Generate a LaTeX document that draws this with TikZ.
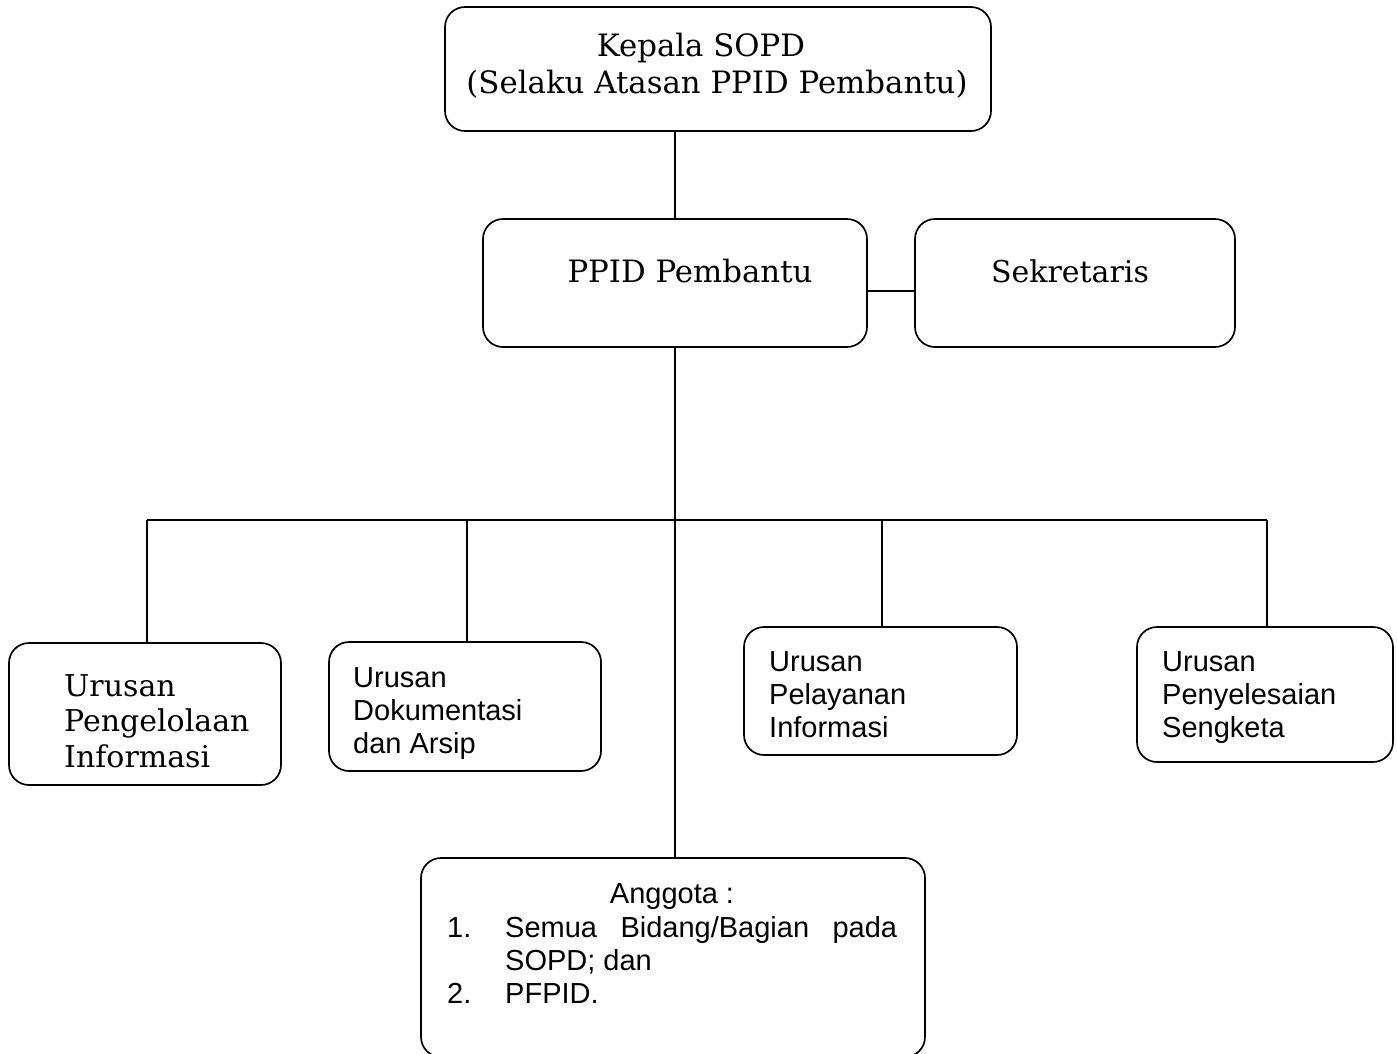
\documentclass[tikz,border=0pt]{standalone}
\usepackage{fontspec}
\setmainfont{DejaVu Serif}
\newfontfamily\arialfont{Liberation Sans}
\begin{document}
\begin{tikzpicture}[x=1pt,y=-1pt,
  box/.style={draw, line width=1.7pt, rounded corners=20pt},
  link/.style={line width=1.7pt},
  serif/.style={inner sep=0pt, font=\fontsize{30.8}{36}\selectfont},
  serifs/.style={inner sep=0pt, font=\fontsize{30}{35.5}\selectfont},
  sans/.style={inner sep=0pt, font=\arialfont\fontsize{29}{33}\selectfont}]
\useasboundingbox (0,0) rectangle (1397,1053);
% boxes
\draw[box] (445,7) rectangle (991,131);
\draw[box] (483,219) rectangle (867,347);
\draw[box] (915,219) rectangle (1235,347);
\draw[box] (9,643) rectangle (281,785);
\draw[box] (329,642) rectangle (601,771);
\draw[box] (744,627) rectangle (1017,755);
\draw[box] (1137,627) rectangle (1393,762);
\draw[box] (421,858) rectangle (925,1057);
% anchor coordinates
\coordinate (kb) at (675,131);
\coordinate (pt) at (675,219);
\coordinate (pb) at (675,347);
\coordinate (pr) at (867,291);
\coordinate (sl) at (915,291);
\coordinate (at) at (675,858);
\coordinate (bus1) at (147,520);
\coordinate (bus2) at (467,520);
\coordinate (bus3) at (882,520);
\coordinate (bus4) at (1267,520);
\coordinate (u1) at (147,643);
\coordinate (u2) at (467,642);
\coordinate (u3) at (882,627);
\coordinate (u4) at (1267,627);
% connectors
\draw[link] (kb) -- (pt);
\draw[link] (pr) -- (sl);
\draw[link] (pb) -- (at);
\draw[link] (bus1) -- (bus4);
\draw[link] (bus1) -- (u1);
\draw[link] (bus2) -- (u2);
\draw[link] (bus3) -- (u3);
\draw[link] (bus4) -- (u4);
% texts
\node[serif, anchor=base] (t1) at (701,56) {Kepala SOPD};
\node[serif, anchor=base] (t2) at (717,93) {(Selaku Atasan PPID Pembantu)};
\node[serif, anchor=base] (t3) at (690,282) {PPID Pembantu};
\node[serifs, anchor=base] (t4) at (1070,282) {Sekretaris};
\node[serifs, anchor=base west] (t5) at (64,696) {\begin{tabular}[t]{@{}l@{}}Urusan\\Pengelolaan\\Informasi\end{tabular}};
\node[sans, anchor=base west] (t6) at (353,687) {\begin{tabular}[t]{@{}l@{}}Urusan\\Dokumentasi\\dan Arsip\end{tabular}};
\node[sans, anchor=base west] (t7) at (769,671) {\begin{tabular}[t]{@{}l@{}}Urusan\\Pelayanan\\Informasi\end{tabular}};
\node[sans, anchor=base west] (t8) at (1162,671) {\begin{tabular}[t]{@{}l@{}}Urusan\\Penyelesaian\\Sengketa\end{tabular}};
\node[sans, anchor=base] (t9) at (672,903) {Anggota :};
\node[sans, anchor=base west] (t10) at (447,937) {1.};
\node[sans, anchor=base west] (t11) at (505,937) {\makebox[392pt][s]{Semua\hfill Bidang/Bagian\hfill pada}};
\node[sans, anchor=base west] (t12) at (505,970) {SOPD; dan};
\node[sans, anchor=base west] (t13) at (447,1003) {2.};
\node[sans, anchor=base west] (t14) at (505,1003) {PFPID.};
\end{tikzpicture}
\end{document}
